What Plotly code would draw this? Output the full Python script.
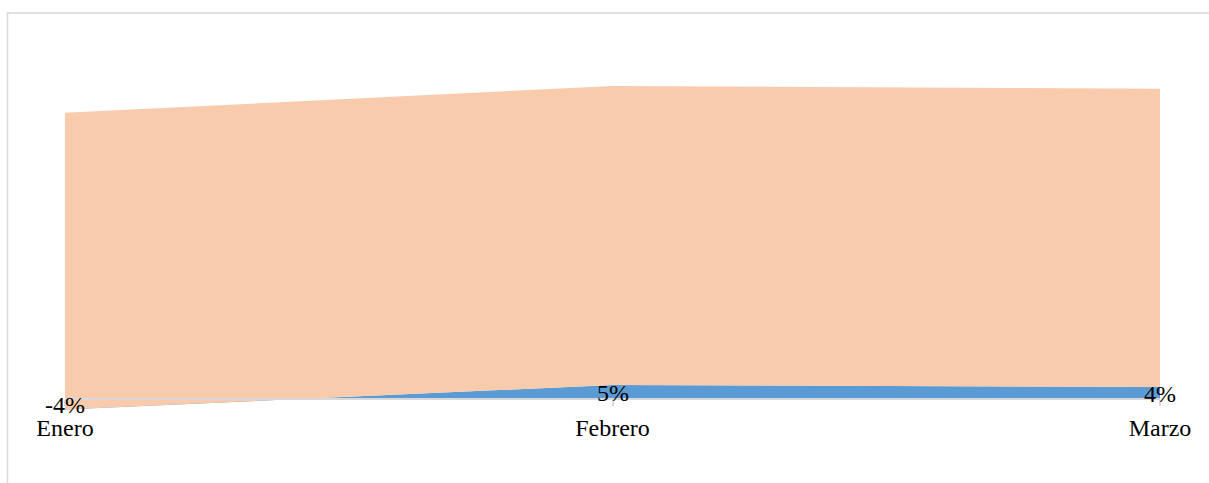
import plotly.graph_objects as go

# ---- data ----
categories = ["Enero", "Febrero", "Marzo"]
serie_azul = [-3.6, 5.1, 4.4]          # % (etiquetas mostradas)
serie_naranja = [105.9, 106.8, 106.5]  # % (área apilada superior)

acumulado = [a + b for a, b in zip(serie_azul, serie_naranja)]
etiquetas = [f"{v:.0f}%" for v in serie_azul]

# ---- layout geometry (style) ----
W, H = 1209, 483
left_px, right_px = 64.5, 1160
top_px, bottom_px = 13, 470
zero_px = 399.3
px_per = 2.8
plot_h = bottom_px - top_px
plot_w = right_px - left_px
ymax = (zero_px - top_px) / px_per
ymin = -(bottom_px - zero_px) / px_per
axis_pos = (bottom_px - zero_px) / plot_h

BLUE = "#5B9BD5"
ORANGE = "#F8CBAD"
GREY = "#D9D9D9"
FONT = "Liberation Serif"

fig = go.Figure()
fig.add_trace(go.Scatter(
    x=categories, y=serie_azul, mode="lines", line=dict(width=0, color=BLUE),
    fill="tozeroy", fillcolor=BLUE, hoverinfo="skip", showlegend=False))
fig.add_trace(go.Scatter(
    x=categories, y=acumulado, mode="lines", line=dict(width=0, color=ORANGE),
    fill="tonexty", fillcolor=ORANGE, hoverinfo="skip", showlegend=False))

for c, v, t in zip(categories, serie_azul, etiquetas):
    fig.add_annotation(x=c, y=v / 2, text=t, showarrow=False,
                       xanchor="center", yanchor="middle", yshift=-1,
                       font=dict(family=FONT, size=24, color="#000000"))

# chart border (extends past right/bottom edges)
fig.add_shape(type="rect", xref="paper", yref="paper",
              x0=(7 - left_px) / plot_w, x1=(W + 5 - left_px) / plot_w,
              y0=(bottom_px - (H + 5)) / plot_h, y1=1,
              line=dict(color=GREY, width=1.5), fillcolor="rgba(0,0,0,0)", layer="below")

fig.update_layout(
    width=W, height=H,
    margin=dict(l=left_px, r=W - right_px, t=top_px, b=H - bottom_px, pad=0),
    paper_bgcolor="white", plot_bgcolor="white",
    font=dict(family=FONT, size=24, color="#000000"),
    showlegend=False,
    xaxis=dict(
        type="category", range=[0, 2], anchor="free", position=axis_pos,
        showline=True, linecolor=GREY, linewidth=1.5,
        ticks="outside", ticklen=6, tickcolor=GREY, tickwidth=1.5,
        showgrid=False, zeroline=False, layer="above traces",
        tickfont=dict(family=FONT, size=24, color="#000000"),
        ticklabelstandoff=1,
    ),
    yaxis=dict(range=[ymin, ymax], visible=False, showgrid=False, zeroline=False),
)

fig.write_html("out.html",
               config={"displayModeBar": False},
               post_script="document.body.style.margin='0px';document.body.style.overflow='hidden';")
